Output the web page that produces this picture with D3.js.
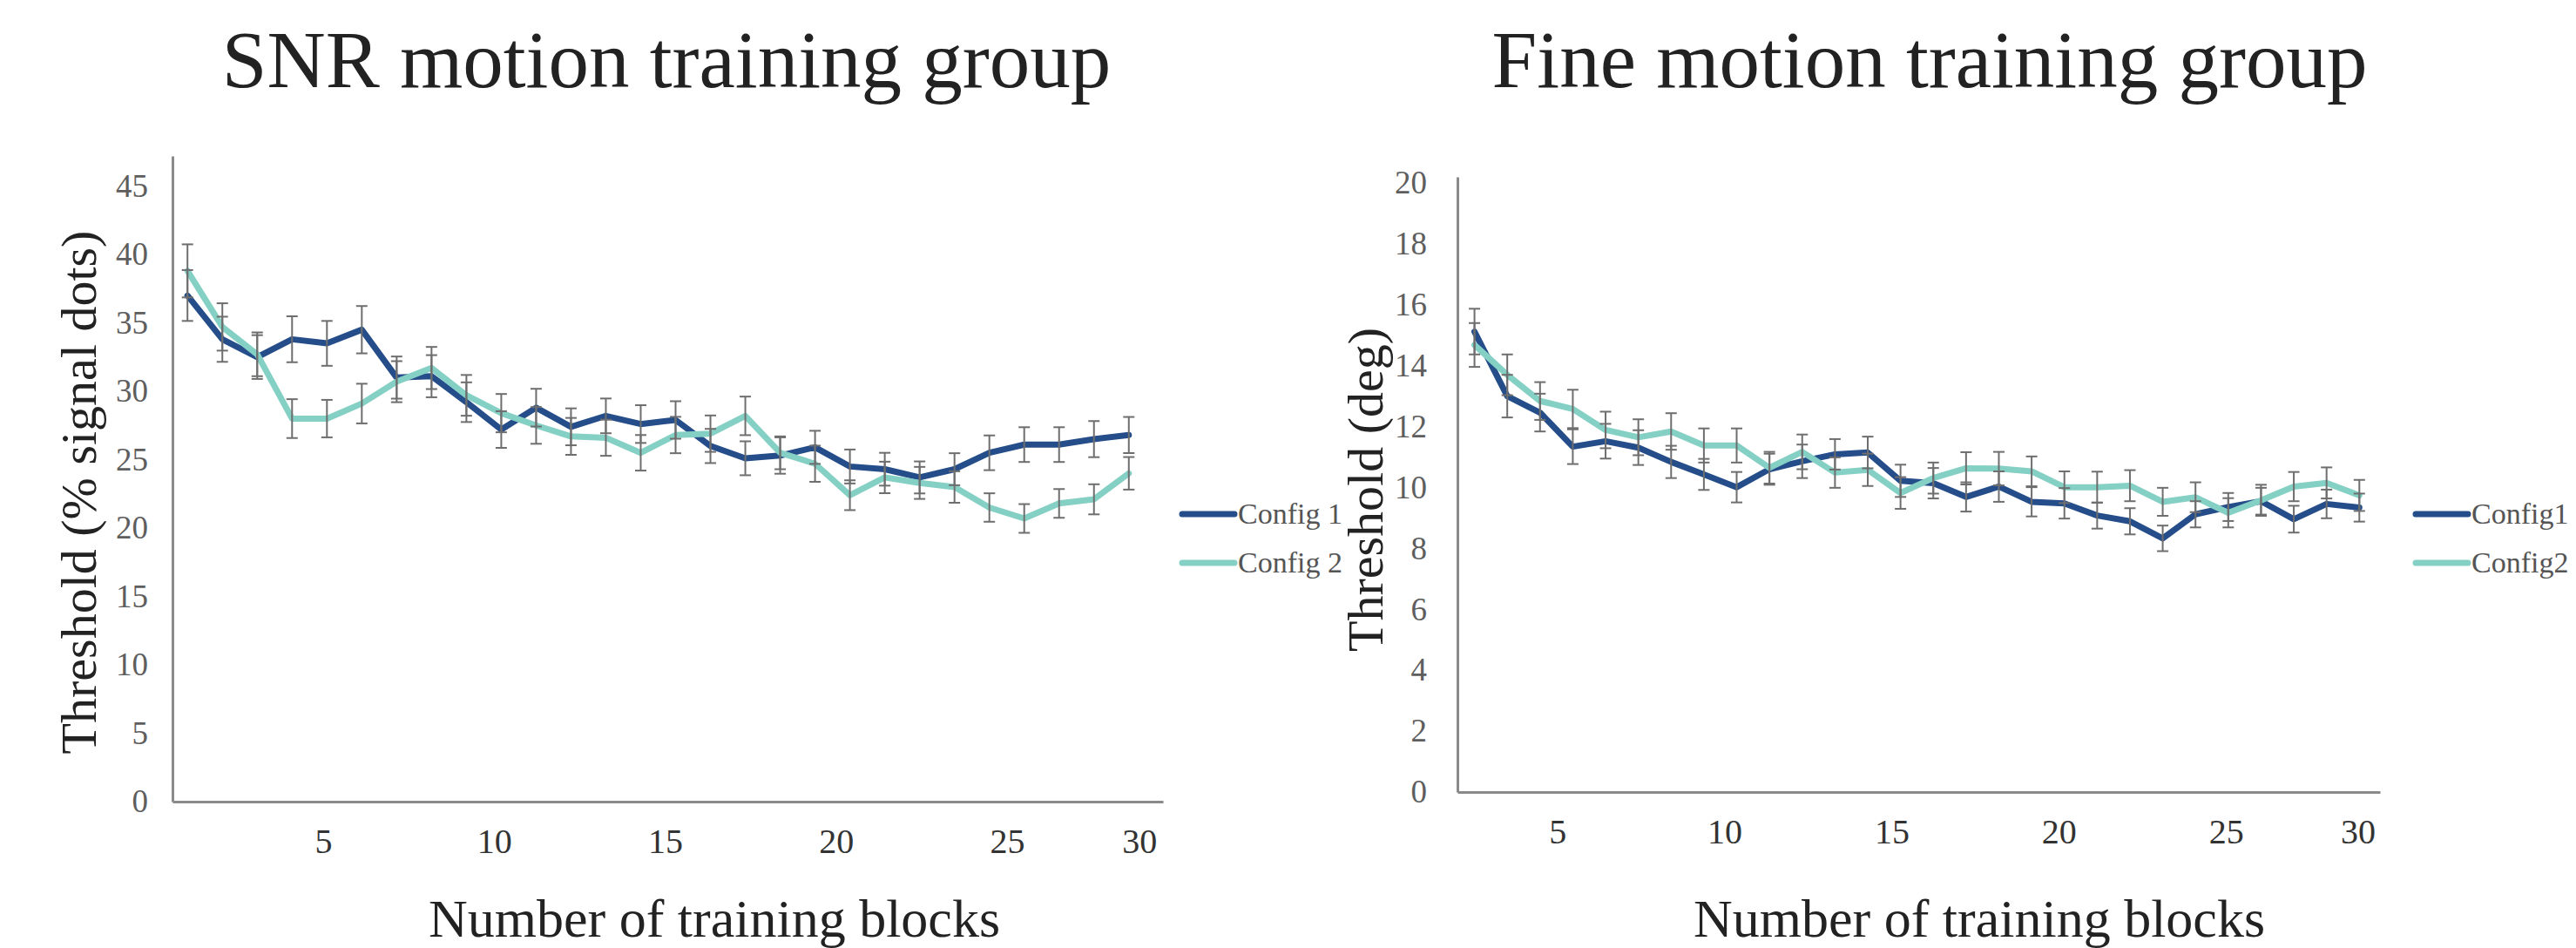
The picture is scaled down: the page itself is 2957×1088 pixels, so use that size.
<!DOCTYPE html>
<html>
<head>
<meta charset="utf-8">
<script src="https://cdn.jsdelivr.net/npm/d3@7"></script>
<style>
  body { margin: 0; background: #fff; }
  text { font-family: "Liberation Serif", "DejaVu Serif", serif; }
</style>
</head>
<body>
<svg id="svgContainer" width="2957" height="1088"></svg>
<script>
// Data

var blocks = [1, 2, 3, 4, 5, 6, 7, 8, 9, 10, 11, 12, 13, 14,
              15, 16, 17, 18, 19, 20, 21, 22, 23, 24, 25, 26, 27, 28];
var tickLabels = [5, 10, 15, 20, 25, 30];
var seriesNames = ["Config 1", "Config 2"];

var snrConfig1 = [37.0, 33.8, 32.5, 33.8, 33.5, 34.5, 31.0, 31.1, 29.2, 27.2, 28.8, 27.4, 28.2, 27.6,
                  27.9, 26.0, 25.1, 25.3, 25.9, 24.5, 24.3, 23.7, 24.3, 25.5, 26.1, 26.1, 26.5, 26.8];
var snrConfig1Err = [1.86, 1.65, 1.60, 1.68, 1.64, 1.73, 1.54, 1.54, 1.45, 1.34, 1.38, 1.35, 1.27, 1.38,
                     1.37, 1.25, 1.24, 1.33, 1.21, 1.24, 1.20, 1.17, 1.17, 1.27, 1.27, 1.27, 1.32, 1.32];
var snrConfig2 = [38.8, 34.7, 32.7, 28.0, 28.0, 29.1, 30.7, 31.7, 29.7, 28.4, 27.5, 26.7, 26.6, 25.5,
                  26.8, 26.9, 28.2, 25.5, 24.7, 22.4, 23.7, 23.3, 23.0, 21.5, 20.7, 21.8, 22.1, 24.0];
var snrConfig2Err = [1.94, 1.73, 1.60, 1.42, 1.37, 1.45, 1.50, 1.54, 1.49, 1.40, 1.34, 1.35, 1.32, 1.30,
                     1.33, 1.33, 1.41, 1.20, 1.32, 1.09, 1.15, 1.17, 1.15, 1.04, 1.05, 1.05, 1.10, 1.19];
var snrYTicks = [0, 5, 10, 15, 20, 25, 30, 35, 40, 45];

var fineConfig1 = [15.12, 13.0, 12.46, 11.34, 11.52, 11.31, 10.84, 10.43, 10.01, 10.6, 10.86, 11.09, 11.15, 10.22,
                   10.14, 9.69, 10.03, 9.53, 9.48, 9.08, 8.89, 8.33, 9.12, 9.36, 9.55, 8.96, 9.46, 9.34];
var fineConfig1Err = [0.75, 0.70, 0.62, 0.57, 0.57, 0.57, 0.53, 0.51, 0.50, 0.51, 0.55, 0.50, 0.52, 0.53,
                      0.50, 0.48, 0.50, 0.48, 0.50, 0.43, 0.43, 0.42, 0.43, 0.46, 0.44, 0.44, 0.47, 0.46];
var fineConfig2 = [14.68, 13.7, 12.84, 12.58, 11.89, 11.65, 11.84, 11.38, 11.38, 10.65, 11.17, 10.49, 10.58, 9.82,
                   10.31, 10.63, 10.62, 10.53, 10.01, 10.01, 10.06, 9.53, 9.68, 9.17, 9.58, 10.03, 10.15, 9.74];
var fineConfig2Err = [0.72, 0.67, 0.62, 0.63, 0.60, 0.59, 0.60, 0.56, 0.56, 0.52, 0.57, 0.50, 0.53, 0.52,
                      0.51, 0.53, 0.55, 0.49, 0.52, 0.51, 0.51, 0.46, 0.49, 0.48, 0.51, 0.48, 0.51, 0.51];
var fineYTicks = [0, 2, 4, 6, 8, 10, 12, 14, 16, 18, 20];

var colors = ["#244d8a", "#85d0c4"];

// Layout of the two panels
var panels = [
  {
    title: "SNR motion training group", yTitle: "Threshold (% signal dots)",
    s1: snrConfig1, e1: snrConfig1Err, s2: snrConfig2, e2: snrConfig2Err, yTicks: snrYTicks,
    yMax: 47.2, left: 198, right: 1335, top: 179, bottom: 920,
    xDomain: [0.57, 28.98], tickAt: [4.89, 24.51, 28.3],
    titleX: 765, xTitleX: 820, yTitleX: 110, yTitleY: 565, yLabelX: 170,
    legendX: 1357, legendNames: seriesNames, legendSize: 34
  },
  {
    title: "Fine motion training group", yTitle: "Threshold (deg)",
    s1: fineConfig1, e1: fineConfig1Err, s2: fineConfig2, e2: fineConfig2Err, yTicks: fineYTicks,
    yMax: 20.2, left: 1673, right: 2732, top: 203, bottom: 909,
    xDomain: [0.48, 28.63], tickAt: [3.53, 23.93, 27.95],
    titleX: 2215, xTitleX: 2272, yTitleX: 1587, yTitleY: 562, yLabelX: 1638,
    legendX: 2773, legendNames: ["Config1", "Config2"], legendSize: 34
  }
];

var svg = d3.select("#svgContainer");
svg.append("rect").attr("width", 2957).attr("height", 1088).attr("fill", "#fff");

panels.forEach(drawPanel);

/**
 * Draw one panel: axes, lines with error bars, titles, legend
 */
function drawPanel(p) {
  var xScale = d3.scaleLinear().domain(p.xDomain).range([p.left, p.right]);
  var yScale = d3.scaleLinear().domain([0, p.yMax]).range([p.bottom, p.top]);
  var tickScale = d3.scaleLinear().domain([5, 25, 30]).range(p.tickAt.map(xScale));

  var g = svg.append("g");

  // axis lines
  g.append("g")
    .attr("transform", `translate(0,${p.bottom})`)
    .call(d3.axisBottom(xScale).tickValues([]).tickSizeOuter(0))
    .call(a => a.select(".domain").attr("stroke", "#8a8a8a").attr("stroke-width", 3));

  g.append("g")
    .attr("transform", `translate(${p.left},0)`)
    .call(d3.axisLeft(yScale).tickValues([]).tickSizeOuter(0))
    .call(a => a.select(".domain").attr("stroke", "#8a8a8a").attr("stroke-width", 3));

  // y tick labels
  g.selectAll(".ylab")
    .data(p.yTicks)
    .enter()
    .append("text")
    .attr("class", "ylab")
    .attr("x", p.yLabelX)
    .attr("y", d => yScale(d))
    .attr("dy", "0.33em")
    .attr("text-anchor", "end")
    .style("font-size", "37px")
    .style("fill", "#5e5e5e")
    .text(d => d);

  // x tick labels
  g.append("g")
    .attr("transform", `translate(0,${p.bottom})`)
    .call(d3.axisBottom(tickScale).tickValues(tickLabels).tickSize(0).tickPadding(31))
    .call(a => a.select(".domain").remove())
    .call(a => a.selectAll("text")
      .style("font-family", '"Liberation Serif", serif')
      .style("font-size", "40px")
      .style("fill", "#333"));

  var series = [
    { values: p.s1, err: p.e1, color: colors[0] },
    { values: p.s2, err: p.e2, color: colors[1] }
  ];

  var line = d3.line()
    .x((d, i) => xScale(blocks[i]))
    .y(d => yScale(d));

  series.forEach(s => {
    g.append("path")
      .datum(s.values)
      .attr("fill", "none")
      .attr("stroke", s.color)
      .attr("stroke-width", 7)
      .attr("stroke-linejoin", "round")
      .attr("stroke-linecap", "round")
      .attr("d", line);
  });

  // error bars
  series.forEach(s => {
    var bars = g.append("g")
      .selectAll(".err")
      .data(s.values)
      .enter()
      .append("g")
      .attr("class", "err")
      .attr("stroke", "#6e6e6e")
      .attr("stroke-width", 2);

    bars.append("line")
      .attr("x1", (d, i) => xScale(blocks[i]))
      .attr("x2", (d, i) => xScale(blocks[i]))
      .attr("y1", (d, i) => yScale(d - s.err[i]))
      .attr("y2", (d, i) => yScale(d + s.err[i]));

    [-1, 1].forEach(sign => {
      bars.append("line")
        .attr("x1", (d, i) => xScale(blocks[i]) - 6.5)
        .attr("x2", (d, i) => xScale(blocks[i]) + 6.5)
        .attr("y1", (d, i) => yScale(d + sign * s.err[i]))
        .attr("y2", (d, i) => yScale(d + sign * s.err[i]));
    });
  });

  // titles
  g.append("text")
    .attr("x", p.titleX)
    .attr("y", 100)
    .attr("text-anchor", "middle")
    .style("font-size", "93px")
    .style("fill", "#222")
    .text(p.title);

  g.append("text")
    .attr("x", p.xTitleX)
    .attr("y", 1075)
    .attr("text-anchor", "middle")
    .style("font-size", "62px")
    .style("fill", "#222")
    .text("Number of training blocks");

  g.append("text")
    .attr("transform", `translate(${p.yTitleX},${p.yTitleY}) rotate(-90)`)
    .attr("text-anchor", "middle")
    .style("font-size", "58px")
    .style("fill", "#222")
    .text(p.yTitle);

  // legend
  var legend = g.selectAll(".legend")
    .data(p.legendNames)
    .enter()
    .append("g")
    .attr("class", "legend")
    .attr("transform", (d, i) => `translate(${p.legendX},${590 + i * 56})`);

  legend.append("line")
    .attr("x1", 0)
    .attr("x2", 60)
    .attr("stroke", (d, i) => colors[i])
    .attr("stroke-width", 7)
    .attr("stroke-linecap", "round");

  legend.append("text")
    .attr("x", 64)
    .attr("dy", "0.33em")
    .style("font-size", p.legendSize + "px")
    .style("fill", "#555")
    .text(d => d);
}
</script>
</body>
</html>
